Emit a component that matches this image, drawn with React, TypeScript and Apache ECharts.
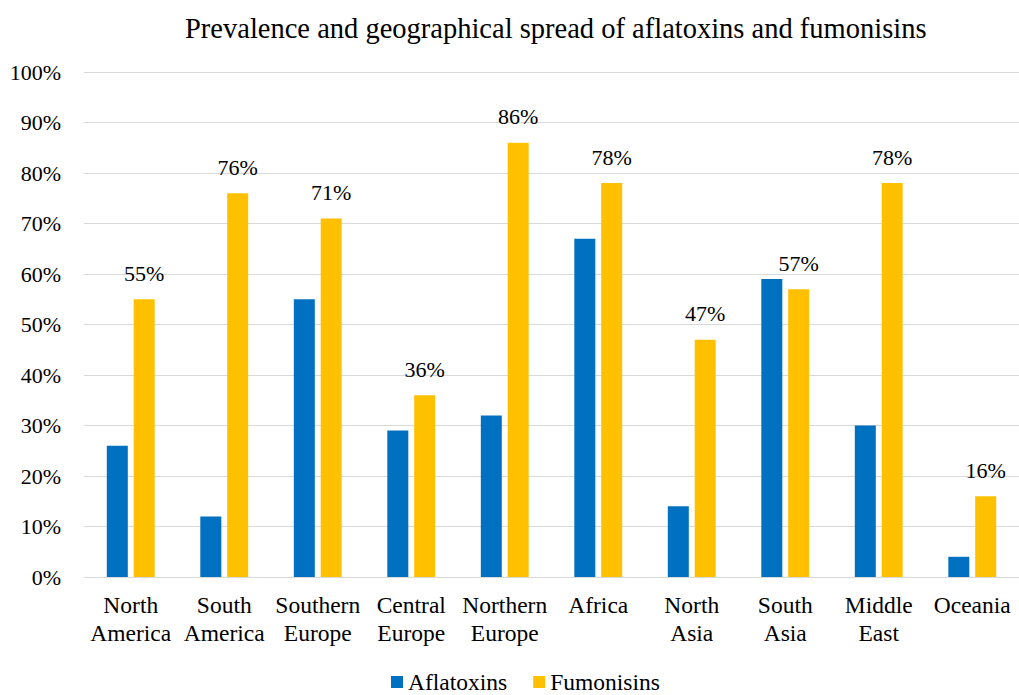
import React, { useEffect, useRef } from "react";
import * as echarts from "echarts";

const categories = [
  "North\nAmerica",
  "South\nAmerica",
  "Southern\nEurope",
  "Central\nEurope",
  "Northern\nEurope",
  "Africa",
  "North\nAsia",
  "South\nAsia",
  "Middle\nEast",
  "Oceania",
];
const aflatoxins = [26, 12, 55, 29, 32, 67, 14, 59, 30, 4];
const fumonisins = [55, 76, 71, 36, 86, 78, 47, 57, 78, 16];
const titleText = "Prevalence and geographical spread of aflatoxins and fumonisins";

const FONT = "Liberation Serif";

export default function App() {
  const ref = useRef<HTMLDivElement>(null);
  useEffect(() => {
    if (!ref.current) return;
    const chart = echarts.init(ref.current, null, { renderer: "svg" });
    chart.setOption({
      animation: false,
      backgroundColor: "#ffffff",
      textStyle: { fontFamily: FONT },
      title: {
        text: titleText,
        left: 180,
        top: 9,
        textStyle: { fontFamily: FONT, fontSize: 28.5, fontWeight: "normal", color: "#000" },
      },
      legend: {
        top: 670,
        left: 391,
        padding: 0,
        itemWidth: 12,
        itemHeight: 12,
        itemGap: 26,
        icon: "rect",
        textStyle: { fontFamily: FONT, fontSize: 23.5, lineHeight: 22, color: "#000" },
        data: ["Aflatoxins", "Fumonisins"],
      },
      grid: { left: 84, top: 72, width: 942, height: 505, containLabel: false },
      xAxis: {
        type: "category",
        data: categories,
        axisLine: { lineStyle: { color: "#d9d9d9", width: 1 } },
        axisTick: { show: false },
        axisLabel: {
          fontFamily: FONT,
          fontSize: 23.5,
          color: "#000",
          margin: 14,
          lineHeight: 28,
          interval: 0,
        },
      },
      yAxis: {
        type: "value",
        min: 0,
        max: 100,
        interval: 10,
        axisLine: { show: false },
        axisTick: { show: false },
        splitLine: { lineStyle: { color: "#d9d9d9", width: 1 } },
        axisLabel: {
          fontFamily: FONT,
          fontSize: 22,
          color: "#000",
          margin: 23,
          formatter: (v: number) => v + "%",
        },
      },
      series: [
        {
          name: "Aflatoxins",
          type: "bar",
          data: aflatoxins,
          barWidth: 21,
          barGap: "28%",
          itemStyle: { color: "#0070C0" },
        },
        {
          name: "Fumonisins",
          type: "bar",
          data: fumonisins,
          barWidth: 21,
          itemStyle: { color: "#FFC000" },
          label: {
            show: true,
            position: "top",
            distance: 15,
            fontFamily: FONT,
            fontSize: 22,
            color: "#000",
            formatter: (p: any) => p.value + "%",
          },
        },
      ],
    });
    return () => chart.dispose();
  }, []);
  return (
    <div
      ref={ref}
      style={{ position: "fixed", left: 0, top: 0, width: 1019, height: 695 }}
    />
  );
}
